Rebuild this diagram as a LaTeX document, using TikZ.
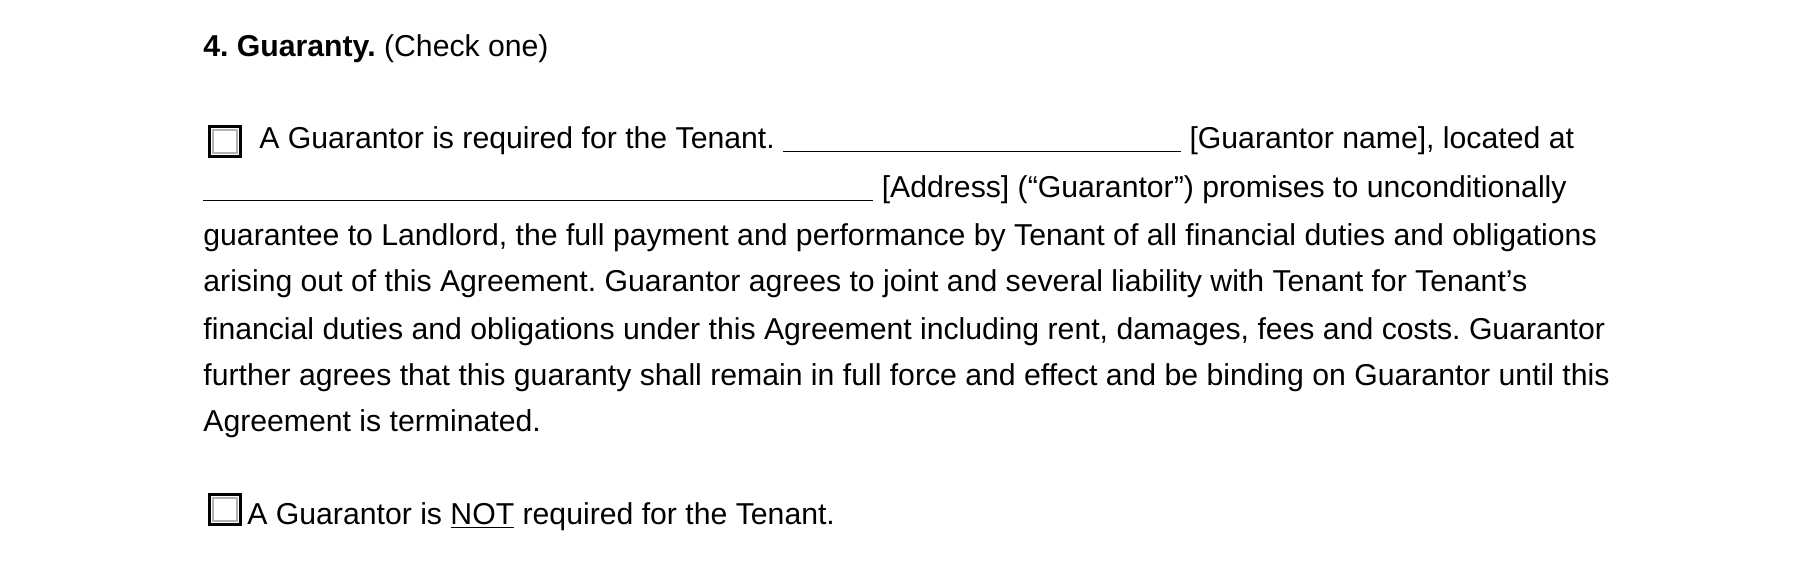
\documentclass[tikz,border=0pt]{standalone}
\usepackage{fontspec}
\setmainfont{Liberation Sans}
\frenchspacing
\begin{document}
\begin{tikzpicture}[x=0.5pt,y=-0.5pt,
  txt/.style={anchor=base west,inner sep=0pt,font=\fontsize{15.1}{17}\selectfont},
  cbox/.style={draw=black,line width=1.5pt,fill=white}]
\useasboundingbox (0,0) rectangle (1818,580);
\node[txt] (title) at (203,56) {\textbf{4. Guaranty.} (Check one)};
\draw[cbox] (209,126) rectangle (240,156);
\draw[gray!60,line width=1pt] (212.5,129.5) rectangle (236.5,152.5);
\node (cb1) at (224.5,141) {};
\node[txt] (l1) at (259,148) {A Guarantor is required for the Tenant. \rule[-2pt]{199pt}{0.6pt} [Guarantor name], located at};
\node[txt] (l2) at (203,197) {\rule[-2pt]{335pt}{0.6pt} [Address] (“Guarantor”) promises to unconditionally};
\node[txt] (l3) at (203,245) {guarantee to Landlord, the full payment and performance by Tenant of all financial duties and obligations};
\node[txt] (l4) at (203,291) {arising out of this Agreement. Guarantor agrees to joint and several liability with Tenant for Tenant’s};
\node[txt] (l5) at (203,339) {financial duties and obligations under this Agreement including rent, damages, fees and costs. Guarantor};
\node[txt] (l6) at (203,385) {further agrees that this guaranty shall remain in full force and effect and be binding on Guarantor until this};
\node[txt] (l7) at (203,431) {Agreement is terminated.};
\draw[cbox] (209,494) rectangle (240,524);
\draw[gray!60,line width=1pt] (212.5,497.5) rectangle (236.5,520.5);
\node (cb2) at (224.5,509) {};
\node[txt] (l8) at (247,524) {A Guarantor is \underline{NOT} required for the Tenant.};
\end{tikzpicture}
\end{document}
